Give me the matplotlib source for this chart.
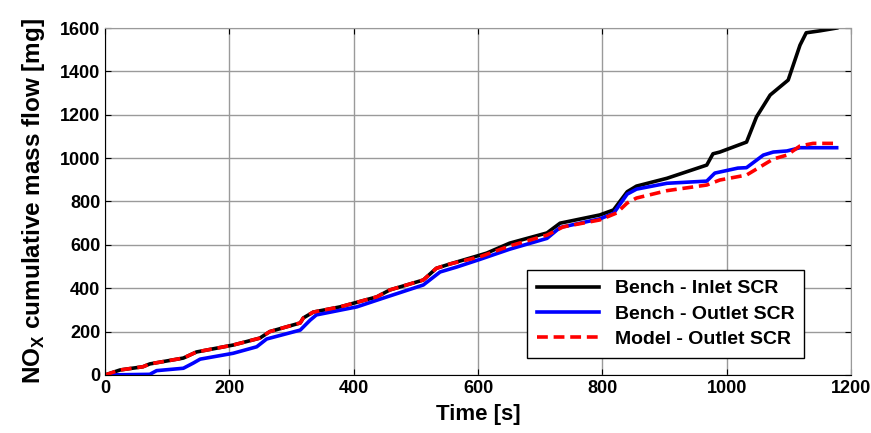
import matplotlib
matplotlib.use("Agg")
import matplotlib.pyplot as plt

plt.rcParams['font.family'] = ['Liberation Sans', 'DejaVu Sans']
plt.rcParams['font.weight'] = 'bold'

t_inlet = [0, 24, 61, 72, 126, 147, 206, 249, 265, 314, 319, 335, 378, 437, 458, 512,
           533, 555, 600, 614, 651, 711, 732, 796, 818, 840, 855, 904, 968, 978, 989,
           1032, 1048, 1070, 1099, 1118, 1128, 1150, 1177]
inlet = [0, 23, 38, 51, 78, 106, 138, 170, 200, 240, 263, 290, 314, 360, 392, 438,
         492, 512, 550, 562, 608, 655, 700, 738, 761, 845, 871, 907, 968, 1020, 1028,
         1074, 1190, 1291, 1360, 1521, 1578, 1587, 1600]

t_outlet = [0, 72, 83, 126, 142, 153, 206, 244, 260, 314, 330, 340, 405, 447, 512,
            539, 566, 603, 651, 711, 732, 796, 818, 840, 855, 904, 968, 981, 1018,
            1032, 1059, 1075, 1097, 1118, 1177]
outlet = [0, 3, 20, 31, 55, 73, 100, 130, 166, 207, 253, 277, 314, 354, 415,
          475, 498, 533, 580, 630, 680, 720, 745, 834, 857, 884, 894, 931, 954,
          956, 1014, 1028, 1033, 1048, 1048]

t_model = [0, 24, 61, 72, 126, 147, 206, 249, 265, 314, 319, 335, 378, 437, 458, 512,
           533, 555, 603, 651, 711, 737, 796, 823, 840, 855, 904, 968, 989, 1032,
           1075, 1097, 1118, 1139, 1177]
model = [0, 23, 38, 51, 78, 106, 138, 170, 200, 240, 263, 290, 314, 360, 392, 438,
         492, 512, 545, 595, 645, 683, 715, 747, 793, 816, 850, 876, 899, 922,
         996, 1014, 1056, 1068, 1068]

fig = plt.figure(figsize=(8.71, 4.33), dpi=100)
ax = fig.add_axes([0.1206, 0.134, 0.8564, 0.8013])

ax.plot(t_inlet, inlet, color='black', lw=2.6, label='Bench - Inlet SCR')
ax.plot(t_outlet, outlet, color='blue', lw=2.6, label='Bench - Outlet SCR')
ax.plot(t_model, model, color='red', lw=2.6, ls=(0, (3, 1.6)), label='Model - Outlet SCR')

ax.set_xlim(0, 1200)
ax.set_ylim(0, 1600)
ax.set_xticks(range(0, 1201, 200))
ax.set_yticks(range(0, 1601, 200))
ax.grid(True, color='#9a9a9a', lw=1.0)
ax.tick_params(direction='in', labelsize=13, length=4, top=True, right=True)
for lab in ax.get_xticklabels() + ax.get_yticklabels():
    lab.set_fontweight('bold')
for s in ['top', 'right']:
    ax.spines[s].set_color('#9a9a9a')

ax.set_xlabel('Time [s]', fontsize=16, fontweight='bold', labelpad=5)
ax.set_ylabel(r'NO$_\mathregular{X}$ cumulative mass flow [mg]', fontsize=17.5,
              fontweight='bold', labelpad=9)

leg = ax.legend(loc='lower right', bbox_to_anchor=(0.937, 0.049), fontsize=14,
                frameon=True, fancybox=False, edgecolor='black', framealpha=1,
                handlelength=3.2, borderpad=0.5, labelspacing=0.4, borderaxespad=0)
leg.get_frame().set_linewidth(1.0)
for txt in leg.get_texts():
    txt.set_fontweight('bold')

fig.savefig('out.png', dpi=100)
